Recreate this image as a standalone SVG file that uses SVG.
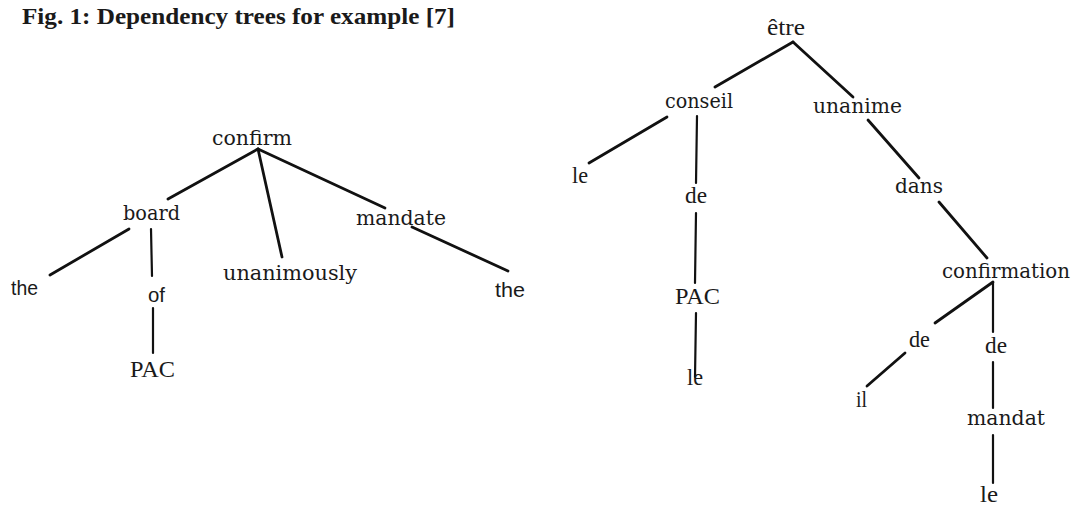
<svg xmlns="http://www.w3.org/2000/svg" width="1072" height="505" viewBox="0 0 1072 505">
  <style>
    .title { font-family: "Liberation Serif", "Times New Roman", serif; font-weight: bold; font-size: 24px; fill: #1a1a1a; }
    .slab { font-family: "DejaVu Serif", serif; font-size: 20px; fill: #1a1a1a; }
    .rom { font-family: "Liberation Serif", "Times New Roman", serif; font-size: 23px; fill: #1a1a1a; }
    .sans { font-family: "Liberation Sans", Arial, sans-serif; font-size: 20px; fill: #1a1a1a; }
    .edge { stroke: #111; stroke-width: 2.8; stroke-linecap: round; fill: none; }
    .vert { stroke: #111; stroke-width: 2.2; stroke-linecap: round; fill: none; }
  </style>
  <rect width="1072" height="505" fill="#ffffff"/>

  <text class="title" x="22" y="24" textLength="433" lengthAdjust="spacingAndGlyphs">Fig. 1:  Dependency trees for example [7]</text>

  <!-- connectors of both trees -->
  <g id="connectors">
    <!-- English tree -->
    <line class="edge" x1="258" y1="149" x2="168" y2="199"/>
    <line class="edge" x1="258" y1="149" x2="282" y2="257"/>
    <line class="edge" x1="258" y1="149" x2="385" y2="208"/>
    <line class="edge" x1="129" y1="229" x2="50" y2="275"/>
    <line class="vert" x1="151" y1="229" x2="152" y2="276"/>
    <line class="vert" x1="153" y1="308" x2="153" y2="353"/>
    <line class="edge" x1="412" y1="227" x2="508" y2="271"/>
    <!-- French tree -->
    <line class="edge" x1="793" y1="42" x2="715" y2="87"/>
    <line class="edge" x1="793" y1="42" x2="853" y2="97"/>
    <line class="edge" x1="667" y1="117" x2="589" y2="163"/>
    <line class="vert" x1="697" y1="116" x2="696" y2="183"/>
    <line class="vert" x1="696" y1="213" x2="695" y2="283"/>
    <line class="vert" x1="696" y1="313" x2="695" y2="377"/>
    <line class="edge" x1="868" y1="120" x2="919" y2="178"/>
    <line class="edge" x1="939" y1="202" x2="987" y2="258"/>
    <line class="edge" x1="993" y1="282" x2="935" y2="323"/>
    <line class="vert" x1="993" y1="282" x2="993" y2="332"/>
    <line class="edge" x1="905" y1="353" x2="867" y2="386"/>
    <line class="vert" x1="993" y1="362" x2="993" y2="408"/>
    <line class="vert" x1="993" y1="435" x2="993" y2="483"/>
  </g>

  <!-- English tree nodes -->
  <g id="en-confirm"><text class="slab" x="212" y="145" textLength="80" lengthAdjust="spacingAndGlyphs">confirm</text></g>
  <g id="en-board"><text class="slab" x="123" y="220" textLength="57" lengthAdjust="spacingAndGlyphs">board</text></g>
  <g id="en-unanimously"><text class="slab" x="223" y="280" textLength="134" lengthAdjust="spacingAndGlyphs">unanimously</text></g>
  <g id="en-mandate"><text class="slab" x="356" y="225" textLength="90" lengthAdjust="spacingAndGlyphs">mandate</text></g>
  <g id="en-the-1"><text class="sans" x="11" y="295" textLength="27" lengthAdjust="spacingAndGlyphs">the</text></g>
  <g id="en-of"><text class="sans" x="148" y="302" textLength="17" lengthAdjust="spacingAndGlyphs">of</text></g>
  <g id="en-pac"><text class="rom" x="130" y="377" textLength="45" lengthAdjust="spacingAndGlyphs">PAC</text></g>
  <g id="en-the-2"><text class="sans" x="495" y="297" textLength="30" lengthAdjust="spacingAndGlyphs">the</text></g>

  <!-- French tree nodes -->
  <g id="fr-etre"><text class="rom" x="767" y="35" textLength="38" lengthAdjust="spacingAndGlyphs">être</text></g>
  <g id="fr-conseil"><text class="slab" x="665" y="108" textLength="68" lengthAdjust="spacingAndGlyphs">conseil</text></g>
  <g id="fr-unanime"><text class="slab" x="813" y="113" textLength="89" lengthAdjust="spacingAndGlyphs">unanime</text></g>
  <g id="fr-le-1"><text class="rom" x="572" y="183" textLength="16" lengthAdjust="spacingAndGlyphs">le</text></g>
  <g id="fr-de-1"><text class="rom" x="685" y="203" textLength="22" lengthAdjust="spacingAndGlyphs">de</text></g>
  <g id="fr-pac"><text class="rom" x="675" y="304" textLength="45" lengthAdjust="spacingAndGlyphs">PAC</text></g>
  <g id="fr-le-2"><text class="rom" x="687" y="385" textLength="16" lengthAdjust="spacingAndGlyphs">le</text></g>
  <g id="fr-dans"><text class="slab" x="895" y="193" textLength="48" lengthAdjust="spacingAndGlyphs">dans</text></g>
  <g id="fr-confirmation"><text class="slab" x="942" y="278" textLength="128" lengthAdjust="spacingAndGlyphs">confirmation</text></g>
  <g id="fr-de-2"><text class="rom" x="909" y="347" textLength="21" lengthAdjust="spacingAndGlyphs">de</text></g>
  <g id="fr-de-3"><text class="rom" x="985" y="353" textLength="22" lengthAdjust="spacingAndGlyphs">de</text></g>
  <g id="fr-il"><text class="rom" x="856" y="407" textLength="11" lengthAdjust="spacingAndGlyphs">il</text></g>
  <g id="fr-mandat"><text class="slab" x="967" y="425" textLength="78" lengthAdjust="spacingAndGlyphs">mandat</text></g>
  <g id="fr-le-3"><text class="rom" x="980" y="502" textLength="18" lengthAdjust="spacingAndGlyphs">le</text></g>
</svg>
